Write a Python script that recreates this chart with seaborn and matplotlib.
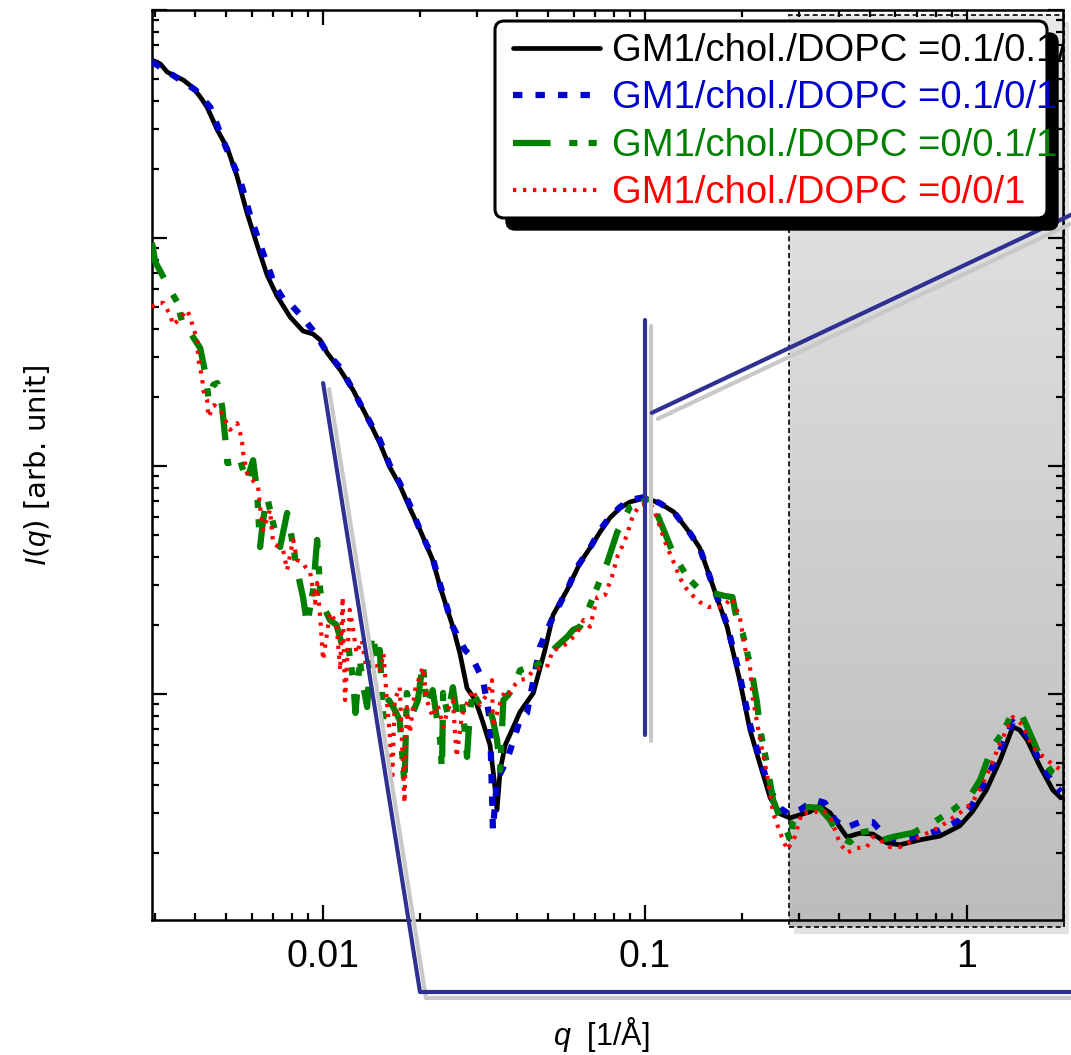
import numpy as np
import seaborn as sns
import matplotlib.pyplot as plt
from matplotlib.colors import LinearSegmentedColormap
from matplotlib.patches import Rectangle, FancyBboxPatch
from matplotlib.transforms import offset_copy

sns.set_style('ticks')
plt.rcParams['font.family'] = ['Liberation Sans', 'DejaVu Sans']
plt.rcParams['mathtext.fontset'] = 'custom'
plt.rcParams['mathtext.it'] = 'Liberation Sans:italic'
plt.rcParams['mathtext.rm'] = 'Liberation Sans'
for key in ['text.color', 'axes.labelcolor', 'xtick.color', 'ytick.color', 'axes.edgecolor']:
    plt.rcParams[key] = 'black'

labels = ['GM1/chol./DOPC =0.1/0.1/1', 'GM1/chol./DOPC =0.1/0/1',
          'GM1/chol./DOPC =0/0.1/1', 'GM1/chol./DOPC =0/0/1']
colors = ['black', '#0000cd', '#008000', '#ff0000']

# GM1/chol./DOPC = 0.1/0.1/1
q_a = [0.00294, 0.00312, 0.00328, 0.00347, 0.00368, 0.00395, 0.00415, 0.00436, 0.00469, 0.00504,
       0.00541, 0.00580, 0.00624, 0.00670, 0.00719, 0.00790, 0.00866, 0.00931, 0.00979, 0.0103,
       0.0113, 0.0124, 0.0136, 0.0150, 0.0161, 0.0173, 0.0186, 0.0200, 0.0219, 0.0231,
       0.0253, 0.0266, 0.0280, 0.0297, 0.0312, 0.0330, 0.0340, 0.0347, 0.0355, 0.0368,
       0.0390, 0.0409, 0.0450, 0.0489, 0.0518, 0.0573, 0.0628, 0.0675, 0.0725, 0.0778,
       0.0836, 0.0898, 0.100, 0.111, 0.123, 0.138, 0.148, 0.163, 0.180, 0.197,
       0.212, 0.228, 0.245, 0.263, 0.282, 0.303, 0.325, 0.349, 0.376, 0.403,
       0.424, 0.465, 0.511, 0.565, 0.619, 0.714, 0.824, 0.951, 1.04, 1.15,
       1.27, 1.39, 1.46, 1.54, 1.69, 1.85, 1.96]
I_a = [604, 580, 534, 513, 493, 455, 416, 375, 298, 248,
       185, 129, 93, 68.7, 55.7, 45.0, 39.1, 37.9, 35.7, 31.3,
       26.4, 21.5, 16.7, 12.6, 9.9, 8.25, 6.53, 5.24, 3.87, 2.95,
       1.97, 1.51, 1.06, 0.94, 0.769, 0.597, 0.420, 0.310, 0.464, 0.597,
       0.717, 0.834, 1.01, 1.56, 2.22, 2.86, 3.75, 4.37, 5.13, 5.92,
       6.53, 6.95, 7.24, 6.88, 6.28, 5.08, 4.37, 2.95, 1.97, 1.15,
       0.695, 0.489, 0.350, 0.298, 0.286, 0.295, 0.304, 0.323, 0.301, 0.261,
       0.236, 0.245, 0.243, 0.222, 0.218, 0.229, 0.238, 0.264, 0.304, 0.379,
       0.514, 0.717, 0.695, 0.628, 0.479, 0.379, 0.350]

# GM1/chol./DOPC = 0.1/0/1
q_b = [0.00294, 0.00323, 0.00360, 0.00401, 0.00446, 0.00497, 0.00552, 0.00593, 0.00646, 0.00709,
       0.00762, 0.00801, 0.00866, 0.00944, 0.0103, 0.0113, 0.0124, 0.0136, 0.0150, 0.0161,
       0.0173, 0.0186, 0.0200, 0.0219, 0.0231, 0.0253, 0.0276, 0.0290, 0.0314, 0.0330,
       0.0337, 0.0347, 0.0373, 0.0409, 0.0430, 0.0472, 0.0518, 0.0573, 0.0616, 0.0675,
       0.0725, 0.0778, 0.0836, 0.0898, 0.100, 0.111, 0.123, 0.138, 0.148, 0.163,
       0.180, 0.197, 0.212, 0.228, 0.245, 0.263, 0.282, 0.303, 0.337, 0.362,
       0.390, 0.418, 0.465, 0.511, 0.565, 0.619, 0.714, 0.824, 0.951, 1.04,
       1.15, 1.27, 1.39, 1.54, 1.69, 1.85, 1.96]
I_b = [592, 545, 493, 446, 375, 253, 180, 126, 88.5, 61.6,
       52.4, 50.4, 44.6, 38.3, 31.3, 27.0, 21.5, 16.7, 13.0, 10.1,
       8.42, 6.74, 5.24, 3.95, 3.01, 1.97, 1.56, 1.45, 1.15, 0.769,
       0.253, 0.420, 0.514, 0.769, 0.826, 1.61, 2.18, 2.86, 3.61, 4.37,
       5.24, 5.98, 6.60, 7.09, 7.31, 6.88, 6.28, 5.08, 4.37, 2.95,
       2.01, 1.21, 0.732, 0.514, 0.379, 0.316, 0.295, 0.310, 0.343, 0.333,
       0.280, 0.258, 0.274, 0.274, 0.233, 0.229, 0.238, 0.253, 0.280, 0.326,
       0.420, 0.568, 0.754, 0.660, 0.504, 0.407, 0.372]

# GM1/chol./DOPC = 0/0.1/1
q_c = [0.00294, 0.00301, 0.00319, 0.00335, 0.00352, 0.00368, 0.00387, 0.00415, 0.00430, 0.00440,
       0.00456, 0.00469, 0.00486, 0.00497, 0.00504, 0.00526, 0.00552, 0.00564, 0.00580, 0.00593,
       0.00606, 0.00624, 0.00637, 0.00651, 0.00670, 0.00699, 0.00735, 0.00773, 0.00801, 0.00830,
       0.00866, 0.00892, 0.00931, 0.00958, 0.00979, 0.0100, 0.0105, 0.0110, 0.0115, 0.0119,
       0.0124, 0.0126, 0.0130, 0.0134, 0.0137, 0.0142, 0.0146, 0.0150, 0.0154, 0.0160,
       0.0165, 0.0173, 0.0179, 0.0182, 0.0190, 0.0197, 0.0204, 0.0210, 0.0219, 0.0231,
       0.0234, 0.0236, 0.0244, 0.0253, 0.0260, 0.0270, 0.0280, 0.0286, 0.0292, 0.0307,
       0.0325, 0.0337, 0.0347, 0.0355, 0.0363, 0.0376, 0.0390, 0.0409, 0.0430, 0.0450,
       0.0472, 0.0496, 0.0518, 0.0545, 0.0573, 0.0598, 0.0628, 0.0660, 0.0711, 0.0763,
       0.0818, 0.0898, 0.0967, 0.1038, 0.111, 0.115, 0.123, 0.136, 0.148, 0.163,
       0.177, 0.187, 0.193, 0.201, 0.207, 0.216, 0.223, 0.228, 0.239, 0.250,
       0.263, 0.277, 0.282, 0.288, 0.309, 0.325, 0.349, 0.376, 0.403, 0.433,
       0.465, 0.511, 0.549, 0.589, 0.680, 0.784, 0.905, 1.02, 1.10, 1.20,
       1.29, 1.39, 1.49, 1.57, 1.69, 1.85, 1.96]
I_c = [95.1, 78.5, 67.4, 59.1, 52.4, 40.7, 38.3, 32.9, 25.8, 20.1,
       22.7, 23.1, 18.1, 13.0, 10.3, 10.4, 10.6, 9.60, 8.51, 9.60,
       10.6, 7.61, 4.41, 5.80, 7.31, 5.62, 4.41, 6.22, 4.74, 3.50,
       2.66, 2.01, 2.86, 4.74, 2.86, 2.46, 2.11, 2.01, 1.61, 1.72,
       1.15, 0.826, 1.41, 1.04, 0.877, 1.85, 1.51, 1.56, 0.769, 0.94,
       0.877, 0.769, 0.399, 1.01, 0.826, 0.94, 1.37, 0.877, 1.04, 0.628,
       0.464, 1.01, 0.809, 1.07, 0.826, 0.94, 0.530, 0.851, 1.01, 0.895,
       0.913, 0.769, 0.628, 0.464, 0.94, 0.99, 1.07, 1.27, 1.30, 1.31,
       1.37, 1.41, 1.56, 1.67, 1.78, 1.91, 1.97, 2.27, 2.95, 3.76,
       5.08, 6.61, 6.88, 7.24, 5.80, 5.13, 4.07, 3.23, 2.86, 2.77,
       2.69, 2.66, 2.11, 1.85, 1.56, 1.19, 0.913, 0.695, 0.498, 0.343,
       0.286, 0.246, 0.229, 0.272, 0.316, 0.319, 0.316, 0.280, 0.236, 0.224,
       0.246, 0.253, 0.229, 0.236, 0.246, 0.272, 0.310, 0.353, 0.420, 0.586,
       0.674, 0.834, 0.793, 0.674, 0.530, 0.450, 0.428]

# GM1/chol./DOPC = 0/0/1
q_d = [0.00294, 0.00305, 0.00319, 0.00335, 0.00342, 0.00360, 0.00378, 0.00387, 0.00395, 0.00407,
       0.00409, 0.00415, 0.00421, 0.00424, 0.00436, 0.00440, 0.00459, 0.00479, 0.00514, 0.00541,
       0.00552, 0.00560, 0.00564, 0.00580, 0.00593, 0.00628, 0.00637, 0.00651, 0.00684, 0.00699,
       0.00751, 0.00773, 0.00807, 0.00830, 0.00866, 0.00892, 0.00911, 0.00944, 0.00958, 0.00979,
       0.0100, 0.0105, 0.0110, 0.0113, 0.0115, 0.0117, 0.0121, 0.0124, 0.0127, 0.0132,
       0.0136, 0.0141, 0.0150, 0.0154, 0.0158, 0.0161, 0.0164, 0.0167, 0.0173, 0.0179,
       0.0182, 0.0186, 0.0193, 0.0204, 0.0210, 0.0219, 0.0227, 0.0236, 0.0244, 0.0253,
       0.0260, 0.0270, 0.0280, 0.0292, 0.0307, 0.0325, 0.0335, 0.0337, 0.0355, 0.0368,
       0.0381, 0.0395, 0.0409, 0.0430, 0.0450, 0.0472, 0.0496, 0.0518, 0.0545, 0.0573,
       0.0616, 0.0644, 0.0675, 0.0711, 0.0752, 0.0789, 0.0824, 0.0854, 0.0879, 0.0918,
       0.0967, 0.1038, 0.1076, 0.113, 0.117, 0.121, 0.128, 0.133, 0.140, 0.148,
       0.157, 0.175, 0.186, 0.197, 0.207, 0.212, 0.216, 0.228, 0.239, 0.250,
       0.263, 0.277, 0.292, 0.307, 0.332, 0.357, 0.376, 0.403, 0.424, 0.456,
       0.489, 0.511, 0.537, 0.577, 0.619, 0.714, 0.824, 0.951, 1.04, 1.15,
       1.27, 1.39, 1.49, 1.60, 1.77, 1.96]
I_d = [49.8, 51.9, 51.9, 45.9, 41.5, 44.6, 48.3, 44.6, 40.3, 35.7,
       29.8, 26.9, 24.3, 21.5, 19.5, 16.4, 18.5, 17.6, 14.4, 15.4,
       14.0, 12.7, 11.5, 9.31, 8.95, 8.09, 6.61, 5.24, 6.41, 4.59,
       4.28, 3.50, 4.74, 3.87, 3.76, 3.50, 3.43, 2.51, 3.07, 2.18,
       1.41, 2.27, 2.05, 1.27, 2.66, 0.94, 2.34, 1.91, 1.51, 1.72,
       1.31, 1.48, 1.24, 1.51, 0.913, 0.674, 0.420, 0.94, 1.07, 0.333,
       0.877, 0.674, 1.04, 1.31, 0.94, 0.793, 0.895, 0.717, 0.851, 0.94,
       0.530, 0.809, 0.913, 1.04, 0.895, 1.01, 1.15, 0.717, 0.913, 1.04,
       1.01, 1.10, 1.15, 1.17, 1.27, 1.30, 1.31, 1.56, 1.59, 1.67,
       1.85, 2.11, 1.97, 2.66, 2.72, 3.26, 4.07, 4.50, 4.98, 6.10,
       6.74, 6.88, 6.22, 5.08, 4.41, 3.99, 3.26, 2.95, 2.72, 2.53,
       2.41, 2.41, 2.64, 2.18, 1.45, 1.31, 0.97, 0.628, 0.450, 0.301,
       0.246, 0.207, 0.236, 0.301, 0.301, 0.310, 0.289, 0.222, 0.201, 0.211,
       0.213, 0.236, 0.229, 0.213, 0.213, 0.236, 0.261, 0.301, 0.333, 0.433,
       0.610, 0.793, 0.732, 0.586, 0.514, 0.464]

# zoom-indicator lines (q, I)
vert_q = [0.1, 0.1]
vert_I = [43.7, 0.66]
upper_q = [0.105, 2.2]
upper_I = [17.1, 130]
lower_q = [0.0100, 0.0200, 2.2]
lower_I = [23.1, 0.0493, 0.0493]

shade_q0 = 0.28
xlim = (0.00294, 1.99)
ylim = (0.102, 1000)

fig = plt.figure(figsize=(10.71, 10.55), dpi=100)
ax_box = [152 / 1071, 1 - 920 / 1055, 911 / 1071, 910 / 1055]
ax = fig.add_axes(ax_box, zorder=1)
ax.patch.set_alpha(0)

# shaded high-q region (gradient panel behind the main axes)
frac = (np.log10(shade_q0) - np.log10(xlim[0])) / (np.log10(xlim[1]) - np.log10(xlim[0]))
gx0 = ax_box[0] + ax_box[2] * frac
gx1 = 1064 / 1071
gy0 = 1 - 927 / 1055
gy1 = 1 - 15 / 1055
fig.add_artist(Rectangle((gx0 + 5 / 1071, gy0 - 7 / 1055), gx1 - gx0, gy1 - gy0,
                         transform=fig.transFigure, fc='#e2e2e2', ec='none', zorder=0.1))
gax = fig.add_axes([gx0, gy0, gx1 - gx0, gy1 - gy0], zorder=0.2)
cmap = LinearSegmentedColormap.from_list('shade', ['#e9e9e9', '#bcbcbc'])
gax.imshow(np.linspace(0, 1, 256).reshape(-1, 1), cmap=cmap, aspect='auto', extent=[0, 1, 0, 1])
gax.set_axis_off()
gax.add_patch(Rectangle((0, 0), 1, 1, transform=gax.transAxes, fill=False, ec='black',
                        lw=1.2, ls=(0, (3, 2)), clip_on=False))

styles = [
    dict(lw=3.4, linestyle='-'),
    dict(lw=4.5, linestyle=(0, (1.5, 2.1))),
    dict(lw=4.5, linestyle=(0, (6.0, 3.0, 1.3, 1.8, 1.3, 3.0))),
    dict(lw=3.0, linestyle=(0, (0.8, 1.6))),
]
series = [(q_a, I_a), (q_b, I_b), (q_c, I_c), (q_d, I_d)]
for (qq, ii), lab, col, st in zip(series, labels, colors, styles):
    sns.lineplot(x=qq, y=ii, ax=ax, color=col, label=lab, estimator=None, sort=False,
                 zorder=3, **st)

ax.set_xscale('log')
ax.set_yscale('log')
ax.set_xlim(*xlim)
ax.set_ylim(*ylim)
ax.set_xticks([0.01, 0.1, 1], ['0.01', '0.1', '1'])
ax.tick_params(which='both', direction='in', top=True, right=True, width=1.6, color='black')
ax.tick_params(which='major', length=11)
ax.tick_params(which='minor', length=5)
ax.tick_params(axis='x', which='major', labelsize=27, pad=14, labelcolor='black')
ax.tick_params(axis='y', labelleft=False)
for s in ax.spines.values():
    s.set_linewidth(1.8)
    s.set_color('black')

ax.set_xlabel(r'$\mathit{q}$  [1/Å]', fontsize=22, family='Liberation Sans')
ax.xaxis.set_label_coords(0.493, -0.104)
ax.set_ylabel(r'$\mathit{I}$($\mathit{q}$) [arb. unit]', fontsize=21, family='DejaVu Sans')
ax.yaxis.set_label_coords(-0.108, 0.5)

# zoom indicator lines with soft shadow
shadow = offset_copy(ax.transData, fig=fig, x=6, y=-6, units='dots')
navy = '#2e3192'
for qq, ii in [(vert_q, vert_I), (upper_q, upper_I), (lower_q, lower_I)]:
    ax.plot(qq, ii, color='#c8c8c8', lw=3, transform=shadow, clip_on=False, zorder=3.5)
    ax.plot(qq, ii, color=navy, lw=3, clip_on=False, zorder=3.6)

# legend with shadowed frame
fx0, fx1 = (495 - 152) / 911, (1047 - 152) / 911
fy0, fy1 = (920 - 218) / 910, (920 - 21) / 910
shadow_ax = offset_copy(ax.transAxes, fig=fig, x=11, y=-12, units='dots')
ax.add_patch(FancyBboxPatch((fx0, fy0), fx1 - fx0, fy1 - fy0, boxstyle='round,pad=0,rounding_size=0.01',
                            transform=shadow_ax, fc='black', ec='black', zorder=5))
ax.add_patch(FancyBboxPatch((fx0, fy0), fx1 - fx0, fy1 - fy0, boxstyle='round,pad=0,rounding_size=0.01',
                            transform=ax.transAxes, fc='white', ec='black', lw=2.2, zorder=5.1))
leg = ax.legend(loc='upper left', bbox_to_anchor=((513 - 152) / 911, (920 - 33) / 910),
                frameon=False, fontsize=27.5, handlelength=2.28, handletextpad=0.31,
                labelspacing=0.30, borderpad=0, borderaxespad=0)
leg.set_zorder(6)
for t, c in zip(leg.get_texts(), colors):
    t.set_color(c)
    t.set_clip_box(ax.bbox)
    t.set_clip_on(True)

fig.savefig('out.png', dpi=100, facecolor='white')
